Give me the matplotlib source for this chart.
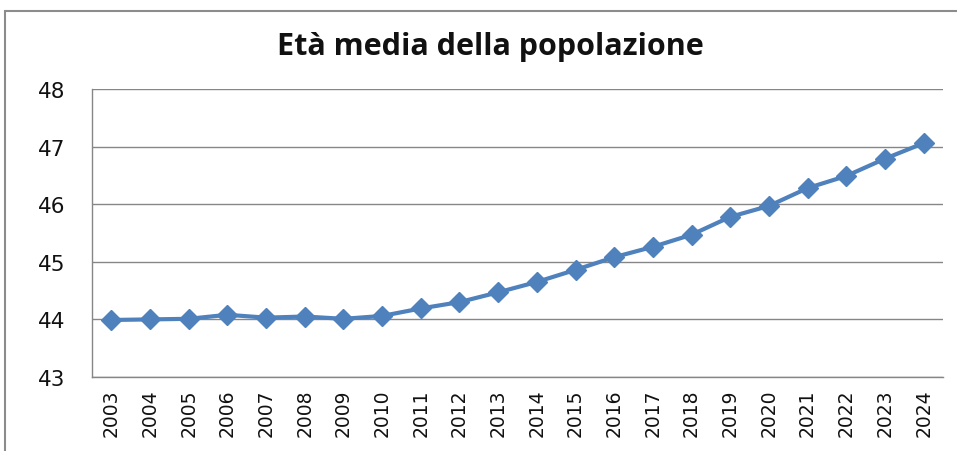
import matplotlib
matplotlib.use("Agg")
import matplotlib.pyplot as plt
from matplotlib.patches import Rectangle

years = [str(y) for y in range(2003, 2025)]
eta_media = [43.99, 44.00, 44.01, 44.08, 44.03, 44.05, 44.01, 44.06, 44.19, 44.30,
             44.47, 44.65, 44.86, 45.08, 45.26, 45.47, 45.78, 45.97, 46.28, 46.49,
             46.79, 47.06]
y_ticks = [43, 44, 45, 46, 47, 48]
title = "Età media della popolazione"

W, H = 957, 452
fig = plt.figure(figsize=(W / 100, H / 100), dpi=100)
fig.patch.set_facecolor("white")

# outer chart frame
fig.patches.append(Rectangle((5 / W, -0.1), 1.2, (H - 12) / H + 0.1, transform=fig.transFigure,
                             fill=False, edgecolor="#8c8c8c", linewidth=1.5))

left, right, top, bottom = 92, 943, 90, 378
ax = fig.add_axes([left / W, 1 - bottom / H, (right - left) / W, (bottom - top) / H])

x = list(range(len(years)))
ax.plot(x, eta_media, color="#4F81BD", linewidth=3, marker="D", markersize=10,
        markeredgecolor="#4F81BD", zorder=3)

ax.set_xlim(-0.5, len(years) - 0.5)
ax.set_ylim(43, 48)
ax.set_yticks(y_ticks)
ax.set_yticklabels([str(t) for t in y_ticks], fontsize=15.5, color="#111111")
ax.set_xticks(x)
ax.set_xticklabels(years, rotation=90, fontsize=13.5, color="#111111")
ax.tick_params(axis="both", length=0)
ax.tick_params(axis="y", pad=19)
ax.tick_params(axis="x", pad=8)

ax.grid(axis="y", color="#868686", linewidth=1)
ax.set_axisbelow(True)
for s in ["top", "right"]:
    ax.spines[s].set_visible(False)
for s in ["left", "bottom"]:
    ax.spines[s].set_color("#868686")
    ax.spines[s].set_linewidth(1)

fig.text(490 / W, 1 - 47 / H, title, ha="center", va="center", fontsize=22,
         fontweight="bold", family="Open Sans", color="#111111")

fig.savefig("out.png", dpi=100)
